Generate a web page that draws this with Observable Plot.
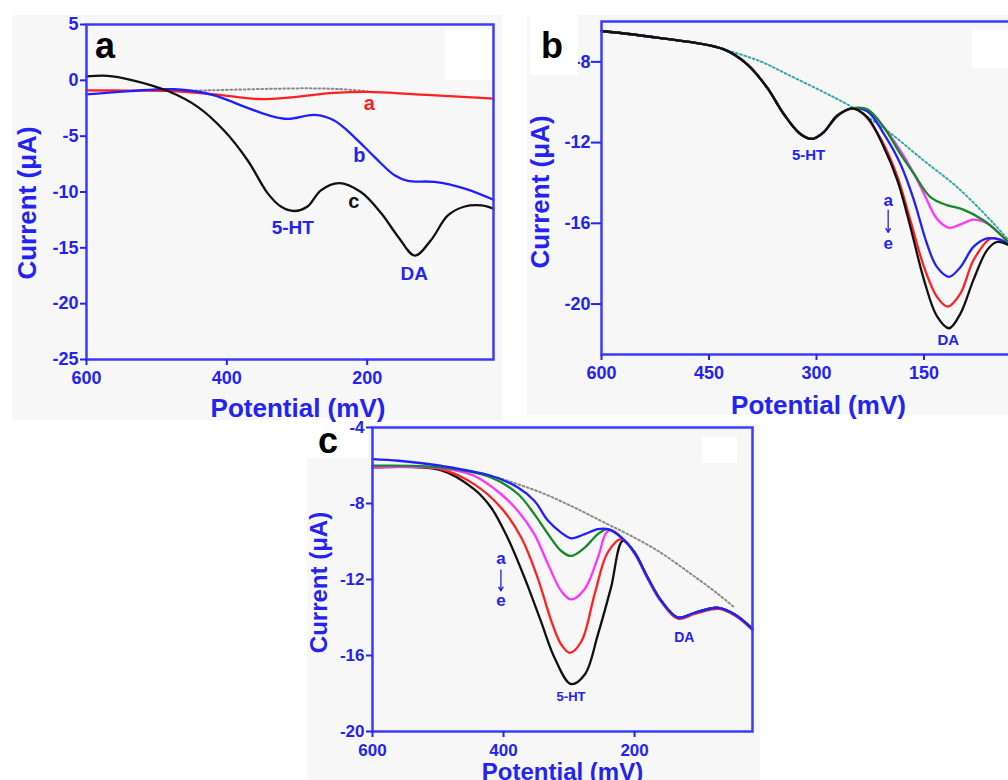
<!DOCTYPE html>
<html><head><meta charset="utf-8">
<script src="https://cdn.jsdelivr.net/npm/d3@7"></script>
<script src="https://cdn.jsdelivr.net/npm/@observablehq/plot@0.6"></script>
<style>
html,body{margin:0;padding:0;overflow:hidden;background:#fff;}
#stage{position:relative;width:1008px;height:780px;overflow:hidden;font-family:"Liberation Sans",Arial,sans-serif;}
.bg{position:absolute;background:#f7f7f7;z-index:0;}
.wb{position:absolute;background:#fff;z-index:1;}
.plab{position:absolute;font:bold 36px "Liberation Sans",Arial,sans-serif;color:#000;line-height:20px;z-index:4;}
</style></head><body><div id="stage"></div>
<script>
// ---------- Panel a : potential (mV), current (µA) ----------
const aXTicks = [600, 400, 200];
const aYTicks = [5, 0, -5, -10, -15, -20, -25];
const aCurveA = [[600,-0.9],[540,-0.92],[484,-0.95],[418,-1.25],[356,-1.67],[313,-1.55],[247,-1.13],[199,-1.04],[132,-1.25],[70,-1.45],[20,-1.64]];
const aCurveB = [[600,-1.25],[537,-0.96],[475,-0.8],[418,-1.34],[380,-2.24],[342,-3.1],[313,-3.46],[275,-3.1],[247,-3.6],[218,-5.1],[189,-6.9],[161,-8.5],[142,-9.0],[104,-9.1],[61,-9.7],[20,-10.7]];
const aCurveC = [[600,0.35],[570,0.4],[537,0.05],[484,-0.96],[441,-2.4],[404,-4.5],[370,-7.2],[342,-10.1],[323,-11.3],[304,-11.7],[285,-11.3],[266,-9.85],[240,-9.2],[209,-10.0],[180,-11.9],[156,-14.0],[132,-15.7],[109,-14.3],[85,-12.1],[61,-11.3],[37,-11.2],[20,-11.5]];
const aBaseline = [[470,-0.95],[427,-0.9],[380,-0.82],[330,-0.75],[280,-0.72],[240,-0.78],[200,-0.98]];
const aLabelText = ["a", "b", "c", "5-HT", "DA"];
const aLabelV = [197, 211, 219, 306, 133];
const aLabelI = [-2.06, -6.7, -10.9, -13.2, -17.3];

// ---------- Panel b ----------
const bXTicks = [600, 450, 300, 150];
const bYTicks = [-8, -12, -16, -20];
const bCommon = [[600,-6.47],[522,-6.8],[430,-7.37],[397,-8.11],[369,-9.27],[346,-10.57],[323,-11.56],[306,-11.82],[290,-11.49],[271,-10.67],[250,-10.3]];
const bCurveA = [[229,-10.35],[206,-11.24],[183,-12.56],[164,-13.55],[141,-14.7],[118,-15.1],[95,-15.32],[67,-15.85],[45,-16.5],[28,-17.1]];
const bCurveB = [[229,-10.4],[206,-11.24],[183,-12.4],[164,-13.55],[150,-14.53],[132,-15.77],[115,-16.22],[99,-16.05],[81,-15.82],[62,-16.0],[45,-16.5],[28,-17.1]];
const bCurveC = [[229,-10.45],[206,-11.57],[183,-13.05],[164,-14.86],[146,-17.0],[132,-18.16],[115,-18.65],[99,-18.16],[81,-17.17],[62,-16.75],[45,-16.8],[28,-17.1]];
const bCurveD = [[234,-10.6],[209,-11.9],[187,-13.7],[169,-15.85],[150,-18.16],[132,-19.64],[117,-20.13],[99,-19.47],[81,-17.83],[57,-16.75],[45,-16.8],[28,-17.12]];
const bCurveE = [[229,-10.75],[206,-12.23],[187,-13.88],[169,-16.18],[150,-18.8],[132,-20.6],[115,-21.2],[99,-20.46],[81,-18.8],[62,-17.33],[48,-16.92],[28,-17.15]];
const bBaseline = [[430,-7.37],[380,-7.95],[336,-8.7],[290,-9.5],[250,-10.25],[200,-11.45],[150,-12.9],[104,-14.2],[57,-15.85],[28,-17.0]];
const bLabelText = ["5-HT", "DA", "a", "e"];
const bLabelV = [311, 116, 200, 200];
const bLabelI = [-12.6, -21.8, -14.86, -17.0];
const bArrowV = 200, bArrowFrom = -15.35, bArrowTo = -16.45;

// ---------- Panel c ----------
const cXTicks = [600, 400, 200];
const cYTicks = [-4, -8, -12, -16, -20];
const cTail = [[200,-10.58],[180,-11.9],[159,-13.13],[134,-14.0],[108,-13.75],[72,-13.49],[47,-13.84],[20,-14.6]];
const cCurveA = [[600,-5.66],[560,-5.75],[496,-6.01],[419,-6.54],[378,-7.16],[353,-7.86],[332,-8.91],[312,-9.53],[297,-9.83],[276,-9.61],[256,-9.35],[241,-9.35],[220,-9.79]];
const cCurveB = [[600,-6.01],[496,-6.1],[419,-6.63],[378,-7.5],[353,-8.56],[332,-9.61],[312,-10.5],[297,-10.76],[276,-10.32],[256,-9.61],[241,-9.35],[220,-9.79]];
const cCurveC = [[600,-6.1],[496,-6.14],[445,-6.54],[404,-7.5],[378,-8.39],[353,-9.61],[332,-11.2],[312,-12.6],[297,-13.05],[276,-12.5],[256,-10.85],[243,-9.53],[235,-9.4],[220,-9.79]];
const cCurveD = [[600,-6.1],[496,-6.19],[445,-6.98],[404,-8.21],[373,-9.79],[348,-11.9],[327,-14.19],[312,-15.42],[299,-15.86],[281,-15.25],[261,-12.78],[241,-10.58],[220,-9.88]];
const cCurveE = [[600,-6.1],[496,-6.24],[445,-7.24],[419,-8.21],[394,-9.79],[368,-11.9],[343,-14.19],[322,-16.13],[297,-17.5],[276,-17.0],[256,-14.9],[236,-12.43],[218,-9.97]];
const cBaseline = [[409,-6.63],[343,-7.42],[292,-8.21],[241,-9.09],[215,-9.53],[164,-10.5],[113,-11.73],[72,-12.78],[47,-13.49]];
const cLabelText = ["a", "e", "5-HT", "DA"];
const cLabelV = [404, 404, 297, 124];
const cLabelI = [-10.92, -13.13, -18.2, -15.05];
const cArrowV = 404, cArrowFrom = -11.5, cArrowTo = -12.6;

const yTitle = "Current (\u03bcA)";
const xTitle = "Potential (mV)";

// ---------- drawing ----------
const BLUE = "#2323f2";
const FRAME = "#3b3bff";
const FONT = "'Liberation Sans', Arial, sans-serif";
const pts = arr => arr.map(([v, i]) => ({v, i}));
const stage = document.getElementById("stage");

function box(cls, l, t, w, h) {
  const d = document.createElement("div");
  d.className = cls;
  Object.assign(d.style, {left: l + "px", top: t + "px", width: w + "px", height: h + "px"});
  stage.appendChild(d);
  return d;
}
// photo backgrounds
box("bg", 12, 15, 490, 405);
box("bg", 527, 15, 481, 400);
box("bg", 307, 425, 453, 355);
box("wb", 445, 30, 47, 50);
box("wb", 972, 30, 36, 38);
box("wb", 702, 437, 35, 26);
box("wb", 290, 418, 78, 40);

function panel(o) {
  const line = (d, color, w = 2.3) => Plot.line(pts(d), {x: "v", y: "i", stroke: color, strokeWidth: w, curve: "catmull-rom"});
  const labels = o.labelText.map((t, k) => ({t, v: o.labelV[k], i: o.labelI[k], c: o.labelColor[k]}));
  const marks = [
    Plot.line(pts(o.baseline), {x: "v", y: "i", stroke: o.baseColor, strokeWidth: 2, strokeDasharray: "1.8,2.6", curve: "catmull-rom"}),
    ...o.series.map(([d, c]) => line(d, c)),
    Plot.frame({stroke: FRAME, strokeWidth: 2.5}),
    Plot.axisX({ticks: o.xTicks, tickFormat: d => String(d), tickSize: 6, tickPadding: 6, strokeWidth: 2, fontSize: o.tickFont, fontWeight: "bold", label: null}),
    Plot.axisY({ticks: o.yTicks, tickFormat: d => String(d), tickSize: o.yTickSize, tickPadding: o.yTickPad, strokeWidth: 2, fontSize: o.tickFont, fontWeight: "bold", label: null}),
    Plot.text(labels, {x: "v", y: "i", text: "t", fill: "c", fontSize: (d, k) => o.labelSize[k], fontWeight: "bold"}),
    Plot.text([yTitle], {frameAnchor: "left", textAnchor: "middle", lineAnchor: "middle", rotate: -90, dx: o.yDx, dy: o.yDy, fontSize: o.titleFont, fontWeight: "bold", fill: "currentColor"}),
    Plot.text([xTitle], {frameAnchor: "bottom", textAnchor: "middle", lineAnchor: "middle", dx: o.xDx, dy: o.xDy, fontSize: o.titleFont, fontWeight: "bold", fill: "currentColor"})
  ];
  if (o.arrow) marks.push(Plot.arrow([o.arrow], {x1: d => d[0], y1: d => d[1], x2: d => d[0], y2: d => d[2], stroke: BLUE, strokeWidth: 1.3, headLength: 5}));
  const svg = Plot.plot({
    width: o.width, height: o.height,
    marginLeft: o.ml, marginRight: o.mr, marginTop: o.mt, marginBottom: o.mb,
    x: {domain: o.xDomain}, y: {domain: o.yDomain},
    style: {background: "transparent", color: BLUE, fontFamily: FONT, overflow: "visible"},
    marks
  });
  Object.assign(svg.style, {position: "absolute", left: o.left + "px", top: o.top + "px", zIndex: 2});
  stage.appendChild(svg);
}

panel({
  left: 0, top: 0, width: 500, height: 420, ml: 86, mr: 7, mt: 24, mb: 61,
  xDomain: [600, 20], yDomain: [-25, 5], xTicks: aXTicks, yTicks: aYTicks, yTickSize: 6, yTickPad: 2,
  baseline: aBaseline, baseColor: "#8a8a8a",
  series: [[aCurveA, "#ff2020"], [aCurveB, "#2020ff"], [aCurveC, "#111111"]],
  labelText: aLabelText, labelV: aLabelV, labelI: aLabelI,
  labelColor: ["#ff2020", BLUE, "#111111", BLUE, BLUE], labelSize: [20, 20, 20, 19, 19],
  tickFont: 18, titleFont: 26, yDx: -59, yDy: 11, xDx: 8, xDy: 49
});
panel({
  left: 500, top: 0, width: 540, height: 420, ml: 101, mr: 9, mt: 21, mb: 66,
  xDomain: [600, 0], yDomain: [-22.5, -6], xTicks: bXTicks, yTicks: bYTicks, yTickSize: 10, yTickPad: 1,
  baseline: bBaseline, baseColor: "#35a9a9",
  series: [[bCommon.concat(bCurveB), "#ff33ff"], [bCommon.concat(bCurveD), "#ff2020"], [bCommon.concat(bCurveC), "#2020ff"], [bCommon.concat(bCurveA), "#138a24"], [bCommon.concat(bCurveE), "#111111"]],
  labelText: bLabelText, labelV: bLabelV, labelI: bLabelI,
  labelColor: [BLUE, BLUE, BLUE, BLUE], labelSize: [15, 15, 17, 17],
  arrow: [bArrowV, bArrowFrom, bArrowTo],
  tickFont: 18, titleFont: 26, yDx: -61, yDy: 4, xDx: 2, xDy: 51
});
panel({
  left: 290, top: 420, width: 480, height: 360, ml: 82, mr: 18, mt: 7, mb: 49,
  xDomain: [600, 20], yDomain: [-20, -4], xTicks: cXTicks, yTicks: cYTicks, yTickSize: 6, yTickPad: 2,
  baseline: cBaseline, baseColor: "#8a8a8a",
  series: [[cCurveE.concat(cTail), "#111111"], [cCurveD.concat(cTail.map(([v, i]) => [v, i - 0.06])), "#ff2020"], [cCurveC.concat(cTail), "#ff33ff"], [cCurveB.concat(cTail), "#138a24"], [cCurveA.concat(cTail), "#2020ff"]],
  labelText: cLabelText, labelV: cLabelV, labelI: cLabelI,
  labelColor: [BLUE, BLUE, BLUE, BLUE], labelSize: [17, 17, 13, 14],
  arrow: [cArrowV, cArrowFrom, cArrowTo],
  tickFont: 17, titleFont: 24, yDx: -53, yDy: 3, xDx: 0, xDy: 41
});

// panel letters
const la = document.createElement("div"); la.className = "plab"; la.textContent = "a";
Object.assign(la.style, {left: "95px", top: "36px"}); stage.appendChild(la);
const lb = box("wb", 530, 15, 48, 60); lb.style.zIndex = 3;
const lbt = document.createElement("div"); lbt.className = "plab"; lbt.textContent = "b";
Object.assign(lbt.style, {left: "541px", top: "36px"}); stage.appendChild(lbt);
const lc = document.createElement("div"); lc.className = "plab"; lc.textContent = "c";
Object.assign(lc.style, {left: "318px", top: "431px"}); stage.appendChild(lc);
</script></body></html>
